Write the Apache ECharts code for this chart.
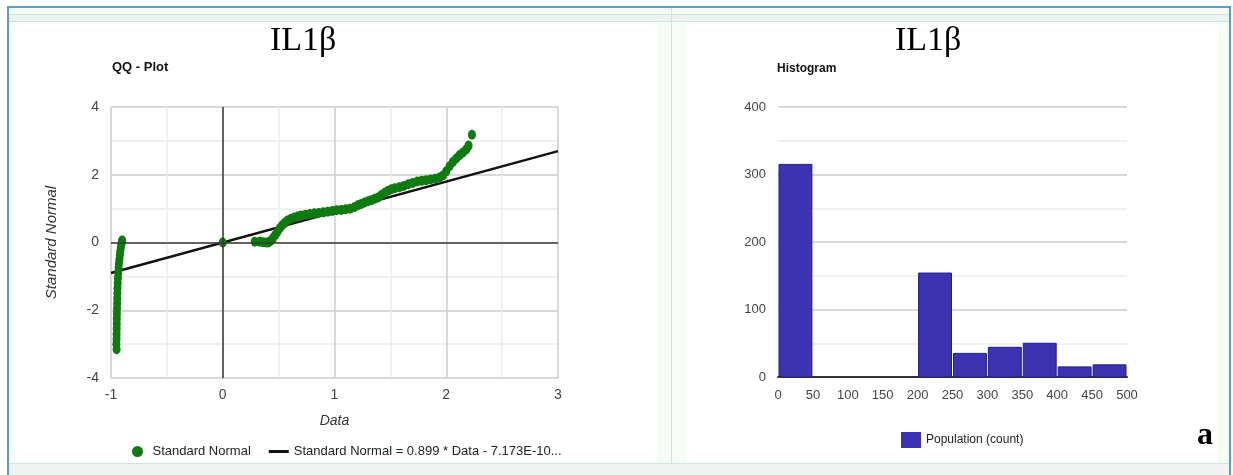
<!DOCTYPE html>
<html>
<head>
<meta charset="utf-8">
<title>IL1β – QQ plot and histogram</title>
<script src="https://cdn.jsdelivr.net/npm/echarts@6/dist/echarts.min.js"></script>
<style>
  html, body { margin: 0; padding: 0; background: #ffffff; }
  #chart { width: 1233px; height: 475px; }
</style>
</head>
<body>
<div id="chart"></div>
<script>
// ---- QQ plot: observed quantiles (Data) vs. standard normal quantiles ----
const qqData = [
  [-0.950, -3.15], [-0.952, -3.00], [-0.950, -2.85], [-0.950, -2.70], [-0.949, -2.55],
  [-0.948, -2.40], [-0.948, -2.25], [-0.947, -2.10], [-0.946, -1.95], [-0.945, -1.80],
  [-0.944, -1.65], [-0.943, -1.50], [-0.942, -1.35], [-0.940, -1.20], [-0.938, -1.05],
  [-0.935, -0.90], [-0.932, -0.75], [-0.929, -0.62], [-0.925, -0.50], [-0.921, -0.38],
  [-0.917, -0.26], [-0.912, -0.15], [-0.907, -0.05], [-0.902, 0.03], [-0.900, 0.06],
  [0.000, 0.00],
  [0.286, 0.02], [0.330, 0.02], [0.360, 0.01], [0.390, 0.00], [0.410, 0.00],
  [0.430, 0.05], [0.450, 0.13], [0.470, 0.22], [0.490, 0.32], [0.510, 0.42],
  [0.530, 0.50], [0.555, 0.58], [0.580, 0.65], [0.610, 0.70], [0.640, 0.74],
  [0.670, 0.77], [0.700, 0.80], [0.740, 0.82], [0.780, 0.84], [0.820, 0.86],
  [0.860, 0.87], [0.900, 0.89], [0.940, 0.91], [0.980, 0.93], [1.020, 0.95],
  [1.060, 0.96], [1.100, 0.98], [1.140, 1.00], [1.180, 1.05], [1.210, 1.10],
  [1.240, 1.14], [1.270, 1.18], [1.300, 1.22], [1.330, 1.25], [1.360, 1.29],
  [1.390, 1.33], [1.420, 1.40], [1.450, 1.47], [1.480, 1.53], [1.510, 1.57],
  [1.540, 1.60], [1.580, 1.63], [1.620, 1.67], [1.660, 1.72], [1.700, 1.76],
  [1.740, 1.80], [1.780, 1.82], [1.820, 1.84], [1.860, 1.86], [1.900, 1.88],
  [1.940, 1.92], [1.970, 1.98], [2.000, 2.10], [2.030, 2.25], [2.060, 2.38],
  [2.090, 2.48], [2.120, 2.58], [2.150, 2.66], [2.180, 2.75], [2.200, 2.86],
  [2.230, 3.18]
];

// Fitted reference line: Standard Normal = 0.899 * Data - 7.173E-10
const fitSlope = 0.899;
const fitIntercept = -7.173e-10;
const fitRangeX = [-1, 3];

const qqXTicks = [-1, 3, 1];   // min, max, interval
const qqYTicks = [-4, 4, 2];

// ---- Histogram: bin edges and population counts ----
const binStarts = [0, 50, 100, 150, 200, 250, 300, 350, 400, 450];
const binWidth = 50;
const binCounts = [315, 0, 0, 0, 154, 35, 44, 50, 15, 18];
const histXTicks = [0, 500, 50];
const histYTicks = [0, 400, 100];

const fitName = 'Standard Normal = 0.899 * Data - 7.173E-10...';
const fitLine = fitRangeX.map(x => [x, fitSlope * x + fitIntercept]);
const histData = binStarts.map((s, i) => [s, s + binWidth, binCounts[i]]);

const sans = "'Liberation Sans', Arial, sans-serif";
const serif = "'Liberation Serif', 'Times New Roman', serif";
const tickColor = '#444';

const chart = echarts.init(document.getElementById('chart'), null, { renderer: 'canvas' });

// page frame pieces
const frame = [
  { type: 'rect', shape: { x: 8, y: 8, width: 1221, height: 6 }, style: { fill: '#f4fcf8' } },
  { type: 'rect', shape: { x: 8, y: 15, width: 1221, height: 6 }, style: { fill: '#eef2f0' } },
  { type: 'rect', shape: { x: 8, y: 14, width: 1221, height: 1 }, style: { fill: '#c6e9d9' } },
  { type: 'rect', shape: { x: 8, y: 21, width: 1221, height: 1 }, style: { fill: '#c6e9d9' } },
  { type: 'rect', shape: { x: 657, y: 22, width: 29, height: 441 }, style: { fill: '#f4fdf8' } },
  { type: 'rect', shape: { x: 671, y: 8, width: 1, height: 455 }, style: { fill: '#c6e9d9' } },
  { type: 'rect', shape: { x: 1218, y: 22, width: 11, height: 441 }, style: { fill: '#f4fdf8' } },
  { type: 'rect', shape: { x: 8, y: 463, width: 1221, height: 1 }, style: { fill: '#c6e9d9' } },
  { type: 'rect', shape: { x: 8, y: 464, width: 1221, height: 11 }, style: { fill: '#f1f3f2' } },
  { type: 'rect', shape: { x: 7, y: 6, width: 1224, height: 2 }, style: { fill: '#5b9bd5' } },
  { type: 'rect', shape: { x: 7, y: 6, width: 2, height: 469 }, style: { fill: '#5b9bd5' } },
  { type: 'rect', shape: { x: 1229, y: 6, width: 2, height: 469 }, style: { fill: '#5b9bd5' } }
].map(e => Object.assign({ silent: true, z: -10 }, e));

const texts = [
  { type: 'text', left: 270, top: 24, style: { text: 'IL1β', font: '34px ' + serif, fill: '#000' } },
  { type: 'text', left: 895, top: 24, style: { text: 'IL1β', font: '34px ' + serif, fill: '#000' } },
  { type: 'text', left: 112, top: 61, style: { text: 'QQ - Plot', font: 'bold 13px ' + sans, fill: '#111' } },
  { type: 'text', left: 777, top: 63, style: { text: 'Histogram', font: 'bold 12px ' + sans, fill: '#111' } },
  { type: 'text', left: 1197, top: 420, style: { text: 'a', font: 'bold 32px ' + serif, fill: '#000' } }
];

const option = {
  animation: false,
  backgroundColor: '#ffffff',
  graphic: { elements: frame.concat(texts) },
  grid: [
    { left: 111, right: 1233 - 558, top: 107, bottom: 475 - 378, containLabel: false },
    { left: 778, right: 1233 - 1127, top: 107, bottom: 475 - 377, containLabel: false }
  ],
  legend: [
    {
      left: 127, top: 440, itemGap: 18, itemWidth: 20, itemHeight: 11,
      textStyle: { fontFamily: sans, fontSize: 13, color: '#222' },
      data: [
        { name: 'Standard Normal', icon: 'circle' },
        { name: fitName, icon: 'path://M0,0H20V3H0Z' }
      ]
    },
    {
      left: 896, top: 427, itemWidth: 20, itemHeight: 16,
      textStyle: { fontFamily: sans, fontSize: 12, color: '#222' },
      data: [{ name: 'Population (count)', icon: 'rect' }]
    }
  ],
  xAxis: [
    {
      gridIndex: 0, type: 'value',
      min: qqXTicks[0], max: qqXTicks[1], interval: qqXTicks[2],
      name: 'Data', nameLocation: 'middle', nameGap: 36,
      nameTextStyle: { fontFamily: sans, fontStyle: 'italic', fontSize: 14, color: '#333' },
      axisLine: { show: false }, axisTick: { show: false },
      axisLabel: { margin: 10, fontFamily: sans, fontSize: 14, color: tickColor },
      splitLine: { show: true, lineStyle: { color: '#cccccc', width: 1.5 } },
      minorTick: { show: false, splitNumber: 2 },
      minorSplitLine: { show: true, lineStyle: { color: '#ebebeb', width: 1.5 } }
    },
    {
      gridIndex: 1, type: 'value',
      min: histXTicks[0], max: histXTicks[1], interval: histXTicks[2],
      axisLine: { show: true, lineStyle: { color: '#333', width: 2 } },
      axisTick: { show: false },
      axisLabel: { margin: 12, fontFamily: sans, fontSize: 13, color: tickColor },
      splitLine: { show: false }
    }
  ],
  yAxis: [
    {
      gridIndex: 0, type: 'value',
      min: qqYTicks[0], max: qqYTicks[1], interval: qqYTicks[2],
      name: 'Standard Normal', nameLocation: 'middle', nameGap: 52,
      nameTextStyle: { fontFamily: sans, fontStyle: 'italic', fontSize: 15, color: '#333' },
      axisLine: { show: false }, axisTick: { show: false },
      axisLabel: { margin: 12, fontFamily: sans, fontSize: 14, color: tickColor },
      splitLine: { show: true, lineStyle: { color: '#cccccc', width: 1.5 } },
      minorTick: { show: false, splitNumber: 2 },
      minorSplitLine: { show: true, lineStyle: { color: '#ebebeb', width: 1.5 } }
    },
    {
      gridIndex: 1, type: 'value',
      min: histYTicks[0], max: histYTicks[1], interval: histYTicks[2],
      axisLine: { show: false }, axisTick: { show: false },
      axisLabel: { margin: 12, fontFamily: sans, fontSize: 13, color: tickColor },
      splitLine: { show: true, lineStyle: { color: '#cccccc', width: 1.5 } },
      minorTick: { show: false, splitNumber: 2 },
      minorSplitLine: { show: true, lineStyle: { color: '#ebebeb', width: 1.5 } }
    }
  ],
  series: [
    {
      name: fitName, type: 'line', xAxisIndex: 0, yAxisIndex: 0,
      data: fitLine, symbol: 'none', silent: true, z: 3,
      lineStyle: { color: '#111', width: 2.5 }, itemStyle: { color: '#111' },
      markLine: {
        silent: true, symbol: 'none', label: { show: false },
        lineStyle: { color: '#3a3a3a', width: 1.5, type: 'solid' },
        data: [{ xAxis: 0 }, { yAxis: 0 }]
      }
    },
    {
      name: 'Standard Normal', type: 'scatter', xAxisIndex: 0, yAxisIndex: 0,
      data: qqData, symbol: 'circle', symbolSize: [8, 10], z: 4,
      itemStyle: { color: '#0e7a10', opacity: 1 }
    },
    {
      name: 'Population (count)', type: 'custom', xAxisIndex: 1, yAxisIndex: 1,
      data: histData,
      encode: { x: [0, 1], y: 2 },
      itemStyle: { color: '#3b33af' },
      renderItem: function (params, api) {
        const count = api.value(2);
        if (!count) return null;
        const p0 = api.coord([api.value(0), 0]);
        const p1 = api.coord([api.value(1), count]);
        return {
          type: 'rect',
          shape: { x: p0[0] + 1, y: p1[1], width: p1[0] - p0[0] - 2, height: p0[1] - p1[1] },
          style: { fill: '#3b33af', stroke: '#231c8e', lineWidth: 1 }
        };
      }
    }
  ]
};

chart.setOption(option);
</script>
</body>
</html>
